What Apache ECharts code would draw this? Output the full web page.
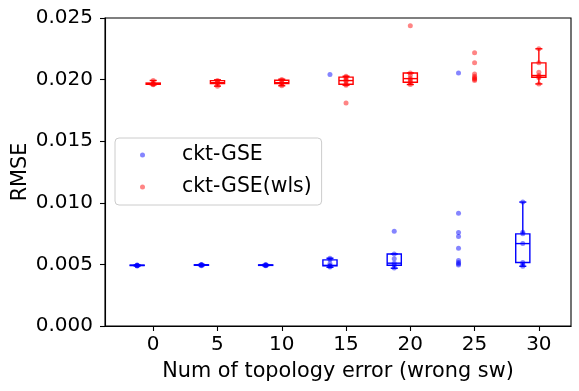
<!DOCTYPE html>
<html>
<head>
<meta charset="utf-8">
<script src="https://cdn.jsdelivr.net/npm/echarts@6/dist/echarts.min.js"></script>
<style>
html,body{margin:0;padding:0;background:#fff}
#main{width:579px;height:391px}
</style>
</head>
<body>
<div id="main"></div>
<script>
// group positions on the x axis (number of wrong switches)
var xTicks = [0, 5, 10, 15, 20, 25, 30];
var yTicks = [0, 0.005, 0.01, 0.015, 0.02, 0.025];
var blueOffset = -1.25;

// ckt-GSE : RMSE of each run, one list per group
var gsePoints = [
    [0.00487, 0.00490, 0.00492, 0.00494, 0.00496],
    [0.00490, 0.00493, 0.00495, 0.00497, 0.00500],
    [0.00489, 0.00492, 0.00494, 0.00496, 0.00499],
    [0.00478, 0.00486, 0.00490, 0.00505, 0.00537, 0.00550, 0.02041],
    [0.00470, 0.00493, 0.00510, 0.00545, 0.00585, 0.00770],
    [0.00496, 0.00506, 0.00515, 0.00531, 0.00632, 0.00726, 0.00759, 0.00916, 0.02054],
    [0.00485, 0.00500, 0.00515, 0.00669, 0.00748, 0.00760, 0.01006]
];
// box stats [min, q1, median, q3, max], null = no box drawn
var gseBox = [
    [0.00487, 0.00491, 0.00492, 0.00494, 0.00496],
    [0.00490, 0.00493, 0.00495, 0.00497, 0.00500],
    [0.00489, 0.00492, 0.00494, 0.00496, 0.00499],
    [0.00477, 0.00488, 0.00492, 0.00537, 0.00550],
    [0.00469, 0.00493, 0.00510, 0.00585, 0.00585],
    null,
    [0.00485, 0.00515, 0.00669, 0.00748, 0.01006]
];

// ckt-GSE(wls)
var wlsPoints = [
    [0.01958, 0.01962, 0.01965, 0.01970, 0.01993],
    [0.01947, 0.01965, 0.01975, 0.01985, 0.01993],
    [0.01950, 0.01965, 0.01975, 0.01990, 0.02000],
    [0.01810, 0.01955, 0.01962, 0.01985, 0.01992, 0.02005, 0.02020, 0.02027],
    [0.01960, 0.01975, 0.01985, 0.02000, 0.02010, 0.02035, 0.02054, 0.02437],
    [0.01992, 0.02000, 0.02008, 0.02015, 0.02027, 0.02046, 0.02136, 0.02217],
    [0.01965, 0.02015, 0.02025, 0.02033, 0.02060, 0.02136, 0.02250]
];
var wlsBox = [
    [0.01958, 0.01962, 0.01965, 0.01972, 0.01993],
    [0.01947, 0.01968, 0.01975, 0.01992, 0.01998],
    [0.01950, 0.01967, 0.01975, 0.01995, 0.02003],
    [0.01955, 0.01962, 0.01992, 0.02020, 0.02027],
    [0.01960, 0.01978, 0.02008, 0.02054, 0.02054],
    null,
    [0.01965, 0.02019, 0.02033, 0.02136, 0.02250]
];

var FONT = 'DejaVu Sans';
var boxWidth = 1.1;

function scatterData(groups, offset) {
    var out = [];
    groups.forEach(function (vals, i) {
        vals.forEach(function (v) { out.push([xTicks[i] + offset, v]); });
    });
    return out;
}
function boxData(boxes, offset) {
    var out = [];
    boxes.forEach(function (b, i) {
        if (b) out.push([xTicks[i] + offset].concat(b));
    });
    return out;
}

function boxRenderer(color) {
    return function (params, api) {
        var x = api.value(0);
        var half = api.size([boxWidth, 0])[0] / 2;
        var capHalf = half / 2;
        var lo = api.coord([x, api.value(1)]);
        var q1 = api.coord([x, api.value(2)]);
        var md = api.coord([x, api.value(3)]);
        var q3 = api.coord([x, api.value(4)]);
        var hi = api.coord([x, api.value(5)]);
        var cx = lo[0];
        function st() { return {stroke: color, lineWidth: 1.4, fill: 'none'}; }
        function ln(x1, y1, x2, y2) {
            return {type: 'line', shape: {x1: x1, y1: y1, x2: x2, y2: y2}, style: st()};
        }
        return {
            type: 'group',
            children: [
                {type: 'rect', shape: {x: cx - half, y: q3[1], width: half * 2, height: q1[1] - q3[1]}, style: st()},
                ln(cx - half, md[1], cx + half, md[1]),
                ln(cx, q3[1], cx, hi[1]),
                ln(cx, q1[1], cx, lo[1]),
                ln(cx - capHalf, hi[1], cx + capHalf, hi[1]),
                ln(cx - capHalf, lo[1], cx + capHalf, lo[1])
            ]
        };
    };
}

var chart = echarts.init(document.getElementById('main'), null, {renderer: 'canvas'});
chart.setOption({
    animation: false,
    backgroundColor: '#ffffff',
    textStyle: {fontFamily: FONT},
    grid: {
        left: 105, right: 8, top: 18, bottom: 65,
        outerBoundsMode: 'none',
        show: true, borderColor: '#000', borderWidth: 1.1, backgroundColor: 'transparent'
    },
    legend: {
        data: ['ckt-GSE', 'ckt-GSE(wls)'],
        orient: 'vertical',
        left: 115, top: 138,
        icon: 'circle',
        itemWidth: 5, itemHeight: 5,
        itemGap: 10,
        padding: [6, 10, 7, 25],
        backgroundColor: 'rgba(255,255,255,0.8)',
        borderColor: '#cccccc', borderWidth: 1, borderRadius: 4,
        textStyle: {fontFamily: FONT, fontSize: 20.4, color: '#000', lineHeight: 22, padding: [0, 0, 0, 32]}
    },
    xAxis: {
        type: 'value',
        min: -3.75, max: 32.5,
        name: 'Num of topology error (wrong sw)',
        nameLocation: 'middle',
        nameGap: 35,
        nameTextStyle: {fontFamily: FONT, fontSize: 20.8, color: '#000'},
        axisLine: {show: true, onZero: false, lineStyle: {color: '#000', width: 1.1}},
        axisTick: {show: true, length: 5, lineStyle: {color: '#000', width: 1.1}, customValues: xTicks},
        axisLabel: {fontFamily: FONT, fontSize: 20, color: '#000', margin: 9, customValues: xTicks},
        splitLine: {show: false}
    },
    yAxis: {
        type: 'value',
        min: 0, max: 0.025, interval: 0.005,
        name: 'RMSE',
        nameLocation: 'middle',
        nameGap: 74,
        nameMoveOverlap: false,
        nameRotate: 90,
        nameTextStyle: {fontFamily: FONT, fontSize: 20.8, color: '#000'},
        axisLine: {show: true, onZero: false, lineStyle: {color: '#000', width: 1.1}},
        axisTick: {show: true, length: 5, lineStyle: {color: '#000', width: 1.1}},
        axisLabel: {
            fontFamily: FONT, fontSize: 20, color: '#000', margin: 12,
            customValues: yTicks,
            formatter: function (v) { return v.toFixed(3); }
        },
        splitLine: {show: false}
    },
    series: [
        {
            name: 'ckt-GSE', type: 'scatter', symbolSize: 5,
            itemStyle: {color: 'rgba(0,0,255,0.6)'},
            data: scatterData(gsePoints, blueOffset), z: 2
        },
        {
            name: 'ckt-GSE(wls)', type: 'scatter', symbolSize: 5,
            itemStyle: {color: 'rgba(255,0,0,0.6)'},
            data: scatterData(wlsPoints, 0), z: 2
        },
        {
            name: 'gse-box', type: 'custom', renderItem: boxRenderer('#0000ff'),
            data: boxData(gseBox, blueOffset), z: 3, silent: true
        },
        {
            name: 'wls-box', type: 'custom', renderItem: boxRenderer('#ff0000'),
            data: boxData(wlsBox, 0), z: 3, silent: true
        }
    ]
});
</script>
</body>
</html>
